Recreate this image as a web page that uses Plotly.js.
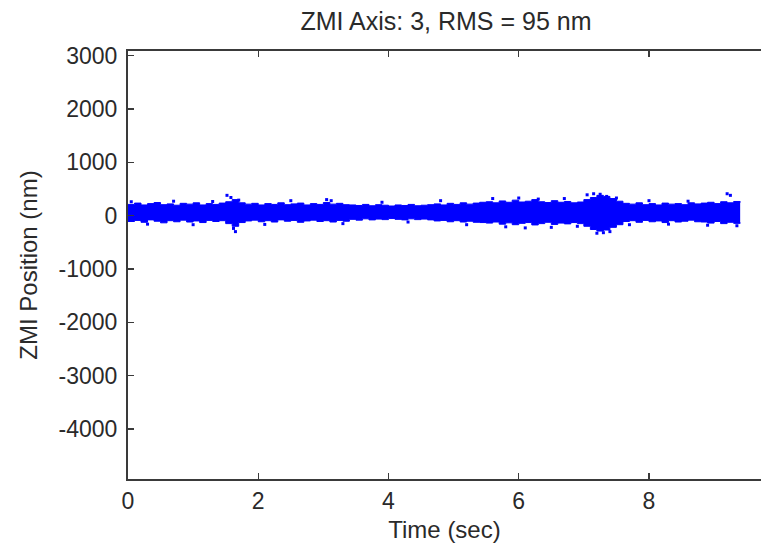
<!DOCTYPE html>
<html>
<head>
<meta charset="utf-8">
<script src="https://cdn.plot.ly/plotly-3.0.1.min.js"></script>
<style>html,body{margin:0;padding:0;background:#fff;}#chart{width:761px;height:547px;}</style>
</head>
<body>
<div id="chart"></div>
<script>
// Time grid (sec) for band envelope, step 0.1 s
const timeStart = 0.0;
const timeStep = 0.1;
// Upper edge of dense noise band (nm)
const bandUpper = [210,235,200,225,245,205,220,195,230,215,240,200,225,210,235,
  260,300,240,
  215,230,200,225,210,240,205,220,235,200,225,210,
  245,215,230,205,
  200,190,210,185,205,195,180,200,190,210,185,195,
  205,220,200,230,210,240,215,235,250,
  260,240,275,250,290,255,270,300,260,245,280,250,265,240,255,
  300,340,380,360,320,270,
  230,215,240,205,225,200,235,215,225,205,240,220,
  235,250,225,260,240,265,245];
// Lower edge of dense noise band (nm)
const bandLower = [-110,-90,-125,-80,-105,-135,-95,-115,-85,-120,-100,-130,-90,-110,-95,
  -150,-200,-130,
  -100,-85,-115,-95,-120,-80,-105,-90,-125,-100,-85,-110,
  -95,-120,-90,-105,
  -70,-85,-60,-80,-65,-75,-55,-70,-80,-60,-75,-65,
  -80,-100,-90,-115,-95,-120,-105,-125,-130,
  -140,-120,-160,-135,-170,-145,-130,-175,-150,-125,-165,-140,-155,-130,-150,
  -200,-260,-290,-270,-220,-170,
  -110,-95,-125,-90,-115,-100,-130,-95,-120,-105,-85,-115,
  -120,-140,-110,-150,-125,-145,-130];
// Scattered outlier samples
const outlierTime = [0.05,0.3,0.7,1.0,1.3,1.52,1.58,1.62,1.65,1.7,2.1,2.5,3.05,3.12,3.3,3.9,4.3,4.8,5.2,5.6,5.8,6.0,6.1,6.3,6.5,6.7,6.9,7.05,7.15,7.2,7.25,7.3,7.35,7.4,7.5,7.7,8.0,8.3,8.6,8.9,9.2,9.25,9.35];
const outlierPos  = [260,-160,270,-170,265,380,340,-240,-300,290,-165,280,300,280,-150,250,-120,280,-170,320,-210,330,-230,310,-220,320,-200,390,410,-330,400,-320,360,-300,330,-170,280,-160,270,-180,410,380,-190];
// Axis ticks
const yTickVals = [-4000,-3000,-2000,-1000,0,1000,2000,3000];
const yTickText = ['-4000','-3000','-2000','-1000','0','1000','2000','3000'];
const xTickVals = [0,2,4,6,8];
const xTickText = ['0','2','4','6','8'];

const bandTime = bandUpper.map((_, i) => +(timeStart + i * timeStep).toFixed(2));
const blue = '#0000ff';
const font = 'Liberation Sans, Arial, sans-serif';

const traces = [
  {x: bandTime, y: bandLower, type: 'scatter', mode: 'lines', line: {color: blue, width: 1, shape: 'hv'}, hoverinfo: 'skip'},
  {x: bandTime, y: bandUpper, type: 'scatter', mode: 'lines', fill: 'tonexty', fillcolor: blue, line: {color: blue, width: 1, shape: 'hv'}, hoverinfo: 'skip'},
  {x: outlierTime, y: outlierPos, type: 'scatter', mode: 'markers', marker: {color: blue, size: 3, symbol: 'square'}, hoverinfo: 'skip'}
];

const layout = {
  width: 761, height: 547,
  margin: {l: 128, r: 0, t: 51, b: 68},
  paper_bgcolor: '#fff', plot_bgcolor: '#fff',
  showlegend: false, hovermode: false,
  font: {family: font, size: 23, color: '#2a2a2a'},
  title: {text: 'ZMI Axis: 3, RMS = 95 nm', font: {family: font, size: 25, color: '#2a2a2a'},
          xref: 'container', yref: 'container', x: 446/761, xanchor: 'center', y: 1 - 21/547, yanchor: 'middle'},
  xaxis: {range: [0, 9.72], tickvals: xTickVals, ticktext: xTickText, ticks: 'inside', ticklen: 6, tickwidth: 1.5, tickcolor: '#3a3a3a',
          showline: true, linecolor: '#3a3a3a', linewidth: 2, mirror: 'ticks', showgrid: false, zeroline: false,
          tickfont: {size: 23}, title: {text: 'Time (sec)', font: {size: 24}, standoff: 9}},
  yaxis: {range: [-4936, 3085], tickvals: yTickVals, ticktext: yTickText, ticks: 'inside', ticklen: 6, tickwidth: 1.5, tickcolor: '#3a3a3a',
          showline: true, linecolor: '#3a3a3a', linewidth: 2, mirror: false, showgrid: false, zeroline: false,
          ticklabelstandoff: 4,
          tickfont: {size: 23}, title: {text: 'ZMI Position (nm)', font: {size: 24}, standoff: 14}}
};

Plotly.newPlot('chart', traces, layout, {staticPlot: true, displayModeBar: false});
</script>
</body>
</html>
